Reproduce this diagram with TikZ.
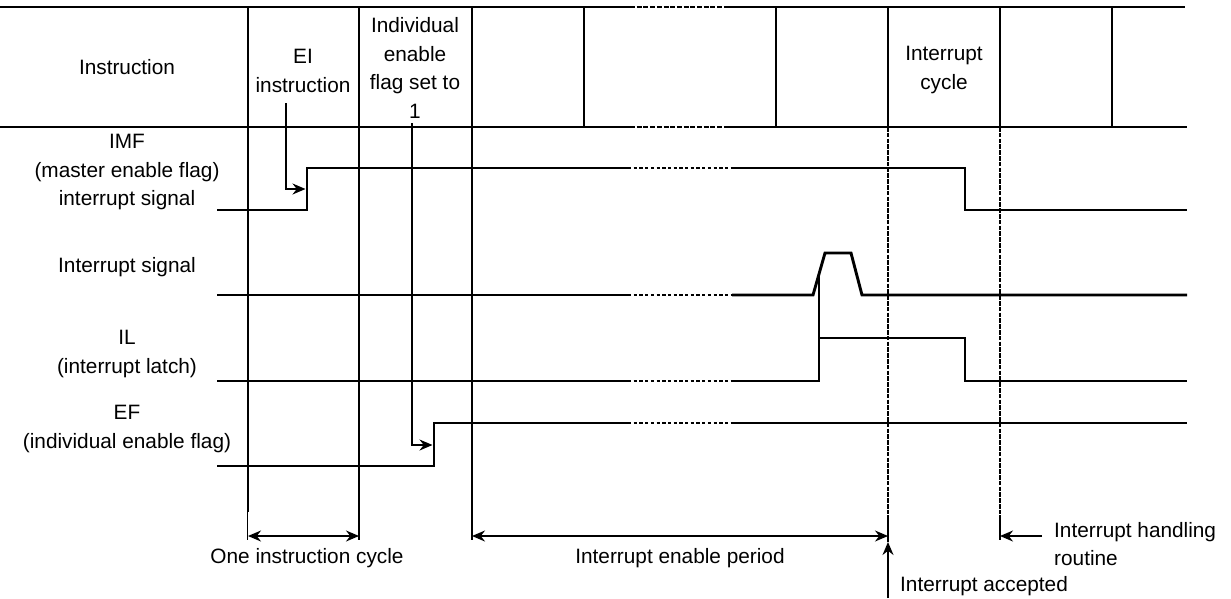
\documentclass[tikz,border=0pt]{standalone}
\usepackage{fontspec}
\setmainfont{Liberation Sans}
\usetikzlibrary{arrows.meta}
\begin{document}
\begin{tikzpicture}[x=1pt,y=-1pt,
 thk/.style={line width=2.5pt},
 thn/.style={line width=1.3pt},
 sig/.style={line width=2.9pt, line join=miter},
 dots/.style={line width=2.9pt, dash pattern=on 3.3pt off 2.4pt},
 hdash/.style={line width=2.5pt, dash pattern=on 5pt off 1.7pt},
 vdot/.style={line width=2.8pt, dash pattern=on 4.5pt off 1.3pt},
 tip/.tip={Stealth[length=13pt,width=11pt]},
 arr/.style={thn, -tip},
 darr/.style={thn, tip-tip},
 lbl/.style={font=\fontsize{20.8}{28.5}\selectfont, align=center, inner sep=0pt},
]
\useasboundingbox (0,0) rectangle (1231,598);

% header frame
\draw[thk] (0,7) -- (630,7);
\draw[hdash] (630,7) -- (728,7);
\draw[thk] (728,7) -- (1185,7);
\draw[thk] (0,127) -- (630,127);
\draw[hdash] (630,127) -- (728,127);
\draw[thk] (728,127) -- (1187,127);
\foreach \x in {359,472,584,776,888,1000,1112}
  \draw[thk] (\x,7) -- (\x,127);
\draw[thk] (248,7) -- (248,512);
\draw[thn] (247.5,512) -- (247.5,540);

% lower grid lines
\draw[thn] (359,127) -- (359,540);
\draw[thn] (472,127) -- (472,540);
\draw[vdot] (888,127) -- (888,515);
\draw[thn] (888,515) -- (888,542);
\draw[vdot] (1000,127) -- (1000,515);
\draw[thn] (1000,515) -- (1000,540);

% header texts
\node[lbl] (hinst) at (127,67) {Instruction};
\node[lbl] (hei) at (303,71) {EI\\instruction};
\node[lbl] (hief) at (415,68) {Individual\\enable\\flag set to\\1};
\node[lbl] (hic) at (944,70) {Interrupt\\cycle};

% signal labels
\node[lbl] (limf) at (127,172) {IMF\\(master enable flag)\\interrupt signal};
\node[lbl] (lis) at (127,267) {Interrupt signal};
\node[lbl] (lil) at (127,354) {IL\\(interrupt latch)};
\node[lbl] (lef) at (127,429) {EF\\(individual enable flag)};

% IMF
\coordinate (m0) at (217,210); \coordinate (m1) at (307,210);
\coordinate (m2) at (307,168); \coordinate (m3) at (628,168);
\coordinate (m4) at (732,168); \coordinate (m5) at (965,168);
\coordinate (m6) at (965,210); \coordinate (m7) at (1187,210);
\draw[sig] (m0) -- (m1) -- (m2) -- (m3);
\draw[dots] (m3) -- (m4);
\draw[sig] (m4) -- (m5) -- (m6) -- (m7);

% Interrupt signal
\coordinate (s0) at (217,295); \coordinate (s1) at (628,295);
\coordinate (s2) at (732,295); \coordinate (s3) at (813,295);
\coordinate (s4) at (825,253); \coordinate (s5) at (851,253);
\coordinate (s6) at (862,295); \coordinate (s7) at (1187,295);
\draw[sig] (s0) -- (s1);
\draw[dots] (s1) -- (s2);
\draw[sig] (s2) -- (s3) -- (s4) -- (s5) -- (s6) -- (s7);

% IL
\coordinate (l0) at (217,381); \coordinate (l1) at (628,381);
\coordinate (l2) at (732,381); \coordinate (l3) at (819,381);
\coordinate (l4) at (819,338); \coordinate (l5) at (965,338);
\coordinate (l6) at (965,381); \coordinate (l7) at (1187,381);
\coordinate (lt) at (819,274);
\draw[sig] (l0) -- (l1);
\draw[dots] (l1) -- (l2);
\draw[sig] (l2) -- (l3) -- (l4) -- (l5) -- (l6) -- (l7);
\draw[thn] (l4) -- (lt);

% EF
\coordinate (e0) at (217,466); \coordinate (e1) at (434,466);
\coordinate (e2) at (434,423); \coordinate (e3) at (628,423);
\coordinate (e4) at (732,423); \coordinate (e5) at (1187,423);
\draw[sig] (e0) -- (e1) -- (e2) -- (e3);
\draw[dots] (e3) -- (e4);
\draw[sig] (e4) -- (e5);

% pointer arrows
\coordinate (ei0) at (286,103); \coordinate (ei1) at (305.5,189);
\draw[arr] (ei0) |- (ei1);
\coordinate (ef0) at (412,123); \coordinate (ef1) at (432.5,445);
\draw[arr] (ef0) |- (ef1);

% dimension arrows
\coordinate (d0) at (248,536); \coordinate (d1) at (359,536);
\coordinate (d2) at (472,536); \coordinate (d3) at (888,536);
\draw[darr] (d0) -- (d1);
\draw[darr] (d2) -- (d3);
\node[lbl] (toic) at (307,558) {One instruction cycle};
\node[lbl] (tiep) at (680,558) {Interrupt enable period};

% interrupt accepted
\coordinate (a0) at (888,598); \coordinate (a1) at (888,542);
\draw[arr] (a0) -- (a1);
\node[lbl, anchor=west] (tia) at (900,586) {Interrupt accepted};

% interrupt handling routine
\coordinate (h0) at (1042,536); \coordinate (h1) at (1000,536);
\draw[arr] (h0) -- (h1);
\node[lbl, align=left, anchor=north west] (tihr) at (1054,522) {Interrupt handling\\routine};
\end{tikzpicture}
\end{document}
